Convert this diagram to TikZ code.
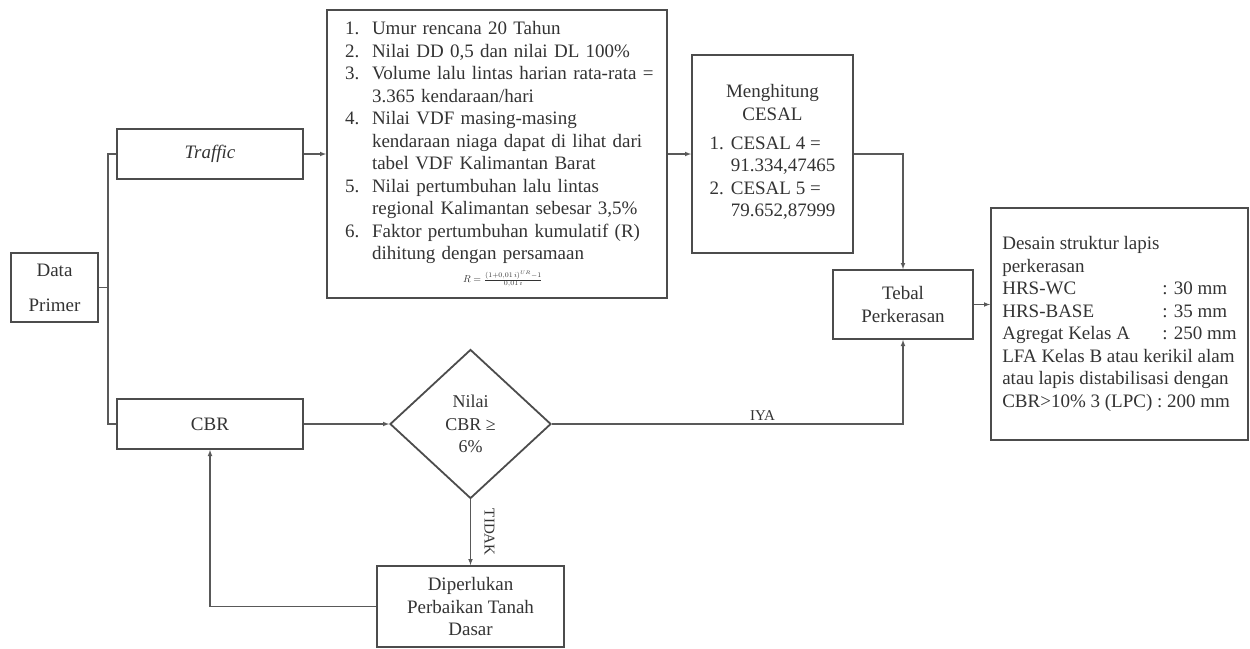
\documentclass[tikz,border=0pt]{standalone}
\usepackage{fontspec}
\setmainfont{Liberation Serif}
\usetikzlibrary{%
  positioning,
  calc,
  shapes.geometric,
}

\begin{document}
\begin{tikzpicture}[%
           x=1pt, y=-1pt,
           stage/.style={
             % The shape:
             rectangle,
             inner sep=0pt,
             % The border:
             line width=1.8pt,
             draw=black!70,
             % The text:
             text=black!80,
             align=center,
             font=\fontsize{19}{22.5}\selectfont,
           },
           query/.style={
             % The shape:
             diamond,
             inner sep=0pt,
             minimum width=161pt,
             minimum height=149pt,
             % The border:
             line width=1.8pt,
             draw=black!70,
             text=black!80,
             align=center,
             font=\fontsize{18}{22.5}\selectfont,
           },
           wire/.style={
             line width=1.1pt,
             color=black!65,
           },
           flow/.style={
             wire,
             ->,
             >=latex,
           },
           answer/.style={
             text=black!80,
             inner sep=3pt,
             font=\fontsize{15}{18}\selectfont,
           },
         ]
         \useasboundingbox (0,0) rectangle (1250,648);

         \node[stage, font=\fontsize{19}{35}\selectfont,
               minimum width=87pt, minimum height=69pt] (data) at (54.5,287.5) {Data\\Primer};
         \node[stage, minimum width=186pt, minimum height=50pt] (traffic) at (210,154) {\textit{Traffic}};
         \node[stage, minimum width=186pt, minimum height=50pt] (cbr) at (210,424) {CBR};

         \node[stage, minimum width=340pt, minimum height=288pt,
               text width=304pt, inner xsep=18pt, align=left] (syarat) at (497,154) {%
           \begin{tabular}{@{}p{27pt}@{}l@{}}
             1. & Umur rencana 20 Tahun\\
             2. & Nilai DD 0,5 dan nilai DL 100\%\\
             3. & Volume lalu lintas harian rata-rata =\\
                & 3.365 kendaraan/hari\\
             4. & Nilai VDF masing-masing\\
                & kendaraan niaga dapat di lihat dari\\
                & tabel VDF Kalimantan Barat\\
             5. & Nilai pertumbuhan lalu lintas\\
                & regional Kalimantan sebesar 3,5\%\\
             6. & Faktor pertumbuhan kumulatif (R)\\
                & dihitung dengan persamaan\\
             \multicolumn{2}{@{}l@{}}{\hspace*{118pt}\fontsize{10}{11}\selectfont
               $R=\frac{(1+0{,}01\,i)^{UR}-1}{0{,}01\,i}$}
           \end{tabular}};

         \node[stage, minimum width=161pt, minimum height=198pt] (hitung) at (772.5,154) {%
           Menghitung\\CESAL\\[12pt]
           \begin{tabular}{@{}l@{\hspace{7pt}}l@{}}
             1. & CESAL 4 =\\
                & 91.334,47465\\
             2. & CESAL 5 =\\
                & 79.652,87999
           \end{tabular}};

         \node[stage, minimum width=140pt, minimum height=69pt] (tebal) at (903,304.5) {Tebal\\Perkerasan};

         \node[stage, minimum width=257pt, minimum height=232pt, align=left] (desain) at (1119.5,324) {%
           Desain struktur lapis\\
           perkerasan\\
           \makebox[160pt][l]{HRS-WC}: 30 mm\\
           \makebox[160pt][l]{HRS-BASE}: 35 mm\\
           \makebox[160pt][l]{Agregat Kelas A}: 250 mm\\
           LFA Kelas B atau kerikil alam\\
           atau lapis distabilisasi dengan\\
           CBR>10\% 3 (LPC) : 200 mm};

         \node[query] (cek) at (470.5,424) {Nilai\\CBR ≥\\6\%};
         \node[stage, minimum width=187pt, minimum height=81pt] (perbaikan) at (470.5,606.5) {Diperlukan\\Perbaikan Tanah\\Dasar};

         % branching from the data
         \coordinate (split) at (108,287.5);
         \draw[wire] (data.east) -- (split);
         \draw[wire] (split) |- (traffic.west);
         \draw[wire] (split) |- (cbr.west);

         \draw[flow] (traffic) -- (syarat);
         \draw[flow] (syarat) -- (hitung);
         \draw[flow] (hitung.east) -| (tebal.north);
         \draw[flow] (tebal.east) -- (tebal.east -| desain.west);

         \draw[flow] (cbr) -- (cek);
         \draw[flow] (cek.east) -| node[pos=0.3, above, answer] {IYA} (tebal.south);
         \draw[flow] (cek.south) -- node[midway, xshift=19pt, rotate=-90, answer] {TIDAK} (perbaikan.north);
         \draw[flow] (perbaikan.west) -| (cbr.south);
       \end{tikzpicture}
\end{document}
